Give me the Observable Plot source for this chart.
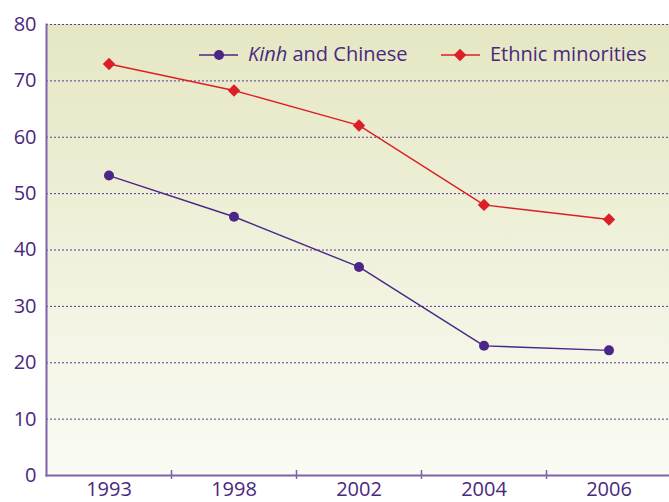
<!DOCTYPE html>
<html><head><meta charset="utf-8">
<script src="https://cdn.jsdelivr.net/npm/d3@7"></script>
<script src="https://cdn.jsdelivr.net/npm/@observablehq/plot@0.6"></script>
<style>
body{margin:0;background:#fff;}
#chart{width:669px;height:502px;overflow:hidden;}
</style>
</head><body><div id="chart"></div>
<script>
const years = ["1993", "1998", "2002", "2004", "2006"];
const kinhChinese = [53.2, 45.9, 37.0, 23.0, 22.2];
const ethnicMinorities = [73.0, 68.3, 62.1, 48.0, 45.4];
const yTicks = [0, 10, 20, 30, 40, 50, 60, 70, 80];
const seriesNames = ["Kinh and Chinese", "Ethnic minorities"];

const W = 669, H = 502, mL = 46, mR = 0, mT = 24, mB = 27;
const purpleText = "#4a2880";
const axisColor = "#7e62ab";
const kinhColor = "#4b2587";
const redColor = "#dc1f26";

const rowsK = years.map((y, i) => ({year: y, value: kinhChinese[i], series: seriesNames[0]}));
const rowsE = years.map((y, i) => ({year: y, value: ethnicMinorities[i], series: seriesNames[1]}));

function background() {
  const g = d3.create("svg:g");
  const defs = g.append("defs");
  const lg = defs.append("linearGradient").attr("id", "bgGrad")
    .attr("x1", 0).attr("y1", 0).attr("x2", 0).attr("y2", 1);
  lg.append("stop").attr("offset", "0%").attr("stop-color", "#e5e7c3");
  lg.append("stop").attr("offset", "100%").attr("stop-color", "#fafbf4");
  g.append("rect").attr("x", mL).attr("y", mT)
    .attr("width", W - mL).attr("height", H - mT - mB)
    .attr("fill", "url(#bgGrad)");
  return g.node();
}

function legend() {
  const g = d3.create("svg:g")
    .attr("font-family", "'Open Sans', sans-serif")
    .attr("font-size", 20).attr("fill", purpleText)
    .attr("text-anchor", "start");
  const ly = 55;
  g.append("line").attr("x1", 199).attr("x2", 238).attr("y1", ly).attr("y2", ly)
    .attr("stroke", kinhColor).attr("stroke-width", 1.4);
  g.append("circle").attr("cx", 219).attr("cy", ly).attr("r", 5).attr("fill", kinhColor);
  const t1 = g.append("text").attr("x", 248).attr("y", 61);
  t1.append("tspan").attr("font-style", "italic").text("Kinh");
  t1.append("tspan").text(" and Chinese");
  g.append("line").attr("x1", 441).attr("x2", 480).attr("y1", ly).attr("y2", ly)
    .attr("stroke", redColor).attr("stroke-width", 1.4);
  g.append("path").attr("d", d3.symbol(d3.symbolDiamond2, 100)()).attr("transform", `translate(460,${ly})`)
    .attr("fill", redColor);
  g.append("text").attr("x", 490).attr("y", 61).text(seriesNames[1]);
  return g.node();
}

const chart = Plot.plot({
  width: W, height: H,
  marginLeft: mL, marginRight: mR, marginTop: mT, marginBottom: mB,
  style: {fontFamily: "'Open Sans', sans-serif", fontSize: "20px", color: purpleText, background: "transparent"},
  x: {type: "band", domain: years, range: [mL, W + 2], padding: 0, label: null},
  y: {domain: [0, 80], label: null},
  marks: [
    background,
    Plot.gridY(yTicks.slice(1), {stroke: "#5a3a98", strokeOpacity: 1, strokeWidth: 1, strokeDasharray: "2,2"}),
    Plot.frame({anchor: "left", stroke: axisColor, strokeWidth: 2}),
    Plot.frame({anchor: "bottom", stroke: axisColor, strokeWidth: 2}),
    Plot.axisX(years.slice(1), {tickSize: 9, dy: -5, dx: -62.5, text: null, stroke: axisColor, strokeWidth: 1.5}),
    Plot.axisX({tickSize: 0, tickPadding: 6, fontSize: 20, fill: purpleText, label: null}),
    Plot.axisY(yTicks, {tickSize: 0, tickPadding: 10, fontSize: 20, fill: purpleText, label: null}),
    Plot.line(rowsK, {x: "year", y: "value", stroke: kinhColor, strokeWidth: 1.4}),
    Plot.dot(rowsK, {x: "year", y: "value", r: 5, fill: kinhColor}),
    Plot.line(rowsE, {x: "year", y: "value", stroke: redColor, strokeWidth: 1.4}),
    Plot.dot(rowsE, {x: "year", y: "value", r: 5.6, symbol: "diamond2", fill: redColor, stroke: "none"}),
    legend
  ]
});
document.getElementById("chart").appendChild(chart);
</script>
</body></html>
